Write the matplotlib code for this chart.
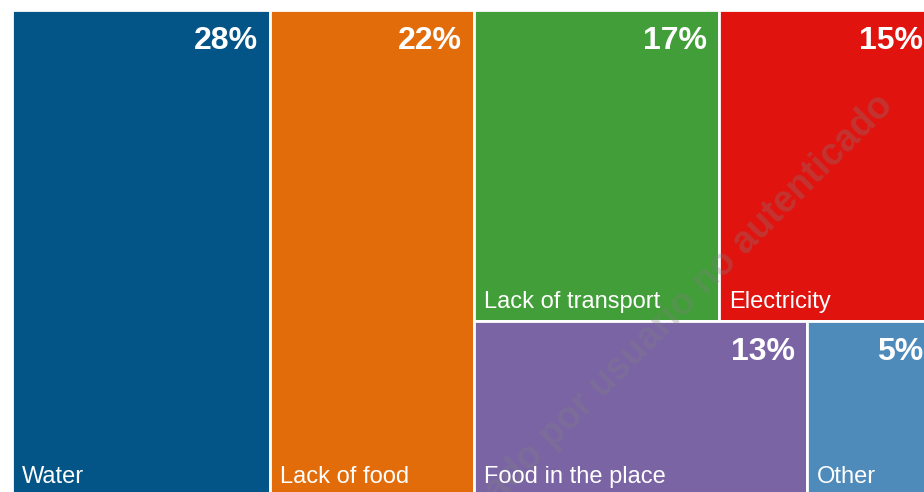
import matplotlib
matplotlib.use("Agg")
import matplotlib.pyplot as plt
from matplotlib.patches import Rectangle

# data
categories = ["Water", "Lack of food", "Lack of transport", "Electricity", "Food in the place", "Other"]
values = [28, 22, 17, 15, 13, 5]
pct_labels = ["28%", "22%", "17%", "15%", "13%", "5%"]
colors = ["#035487", "#e36c0a", "#419e38", "#e0130f", "#7a64a4", "#4e8bbb"]
# how tiles are grouped (index into categories), nested groups alternate direction
groups = [0, 1, [[2, 3], [4, 5]]]

plt.rcParams['font.family'] = ['Liberation Sans', 'DejaVu Sans']

fig = plt.figure(figsize=(9.24, 4.92), dpi=100)
ax = fig.add_axes([0, 0, 1, 1])
ax.set_xlim(0, 924)
ax.set_ylim(492, 0)
ax.axis("off")


def weight(item):
    if isinstance(item, list):
        return sum(weight(i) for i in item)
    return values[item]


rects = {}


def split(items, x, y, w, h, horizontal):
    tot = sum(weight(i) for i in items)
    for it in items:
        frac = weight(it) / tot
        if horizontal:
            sub = (x, y, w * frac, h)
            x += w * frac
        else:
            sub = (x, y, w, h * frac)
            y += h * frac
        if isinstance(it, list):
            split(it, *sub, not horizontal)
        else:
            rects[it] = sub


# plot area (the right side runs past the picture edge)
split(groups, 12, 10, 923, 486, True)

for i, (x, y, w, h) in rects.items():
    ax.add_patch(Rectangle((x, y), w, h, facecolor=colors[i], edgecolor="white", linewidth=2))

# watermark
ax.text(895, 107, "Descargado por usuario no autenticado", color="#808080", alpha=0.3,
        fontsize=27, fontweight="bold", rotation=45, rotation_mode="anchor",
        ha="right", va="baseline", zorder=3)

for i, (x, y, w, h) in rects.items():
    ax.text(x + w - 12, y + 39, pct_labels[i], color="white", fontsize=23, fontweight="bold",
            ha="right", va="baseline", zorder=4)
    ax.text(x + 10, y + h - 13, categories[i], color="white", fontsize=17,
            ha="left", va="baseline", zorder=4)

fig.savefig("out.png", dpi=100)
